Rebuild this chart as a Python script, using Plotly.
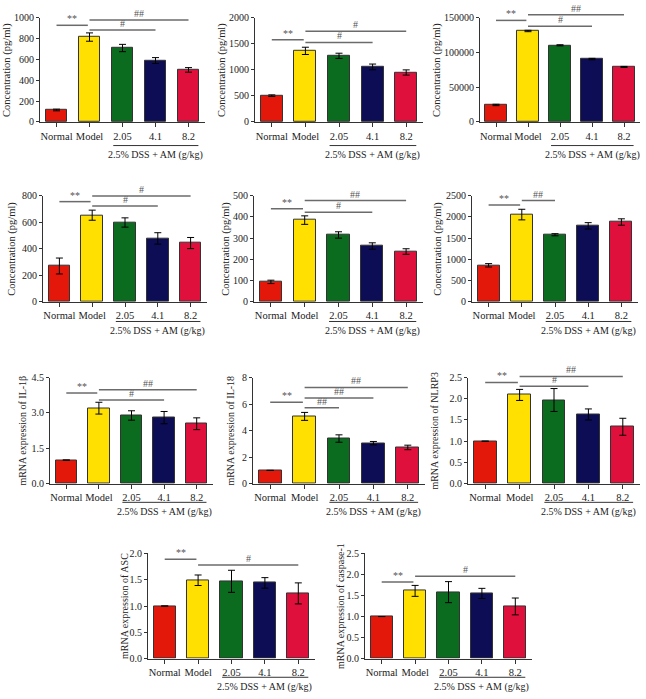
import plotly.graph_objects as go

W, H = 646, 699

categories = ["Normal", "Model", "2.05", "4.1", "8.2"]
bar_colors = ["#E3170A", "#FFE000", "#0B6B1F", "#0D0D55", "#E0103C"]
group_label = "2.5% DSS + AM (g/kg)"

# ---- values (mean, error) ----
conc_a = [115, 815, 710, 590, 500]
conc_a_err = [8, 40, 35, 28, 22]
conc_b = [505, 1365, 1270, 1057, 950]
conc_b_err = [15, 70, 50, 55, 50]
conc_c = [24500, 131000, 110400, 90600, 79200]
conc_c_err = [1000, 1000, 800, 1000, 800]
conc_d = [270, 653, 598, 478, 443]
conc_d_err = [60, 38, 35, 43, 42]
conc_e = [94, 385, 315, 263, 237]
conc_e_err = [8, 20, 15, 15, 13]
conc_f = [860, 2055, 1580, 1790, 1880]
conc_f_err = [40, 125, 25, 75, 75]
il1b = [1.0, 3.20, 2.89, 2.80, 2.54]
il1b_err = [0, 0.25, 0.2, 0.26, 0.25]
il18 = [1.0, 5.07, 3.40, 3.05, 2.73]
il18_err = [0, 0.3, 0.28, 0.13, 0.17]
nlrp3 = [1.0, 2.09, 1.97, 1.63, 1.34]
nlrp3_err = [0, 0.13, 0.27, 0.13, 0.2]
asc = [1.0, 1.49, 1.47, 1.44, 1.24]
asc_err = [0, 0.1, 0.21, 0.1, 0.2]
casp1 = [1.0, 1.61, 1.58, 1.55, 1.24]
casp1_err = [0, 0.13, 0.25, 0.12, 0.2]

# y axis maxima and steps
y_max = [1000, 2000, 150000, 800, 500, 2500, 4.5, 8, 2.5, 2.0, 2.5]
y_step = [200, 500, 50000, 200, 100, 500, 1.5, 2, 0.5, 0.5, 0.5]
y_fmt = ["d", "d", "d", "d", "d", "d", ".1f", "d", ".1f", ".1f", ".1f"]
y_titles = ["Concentration (pg/ml)"] * 6 + [
    "mRNA expression of IL-1\u03b2", "mRNA expression of IL-18",
    "mRNA expression of NLRP3", "mRNA expression of ASC",
    "mRNA expression of caspase-1"]

# significance marks: (from group, to group, label, height as fraction of y axis)
sig_a = [(0, 0.95, "**", 0.928), (1, 4, "##", 0.98), (1, 3, "#", 0.884)]
sig_b = [(0, 0.95, "**", 0.79), (1, 4, "#", 0.87), (1, 3, "#", 0.764)]
sig_c = [(0, 0.95, "**", 0.975), (1, 4, "##", 1.03), (1, 3, "#", 0.92)]
sig_d = [(0, 0.95, "**", 0.944), (1, 4, "#", 0.997), (1, 3, "#", 0.903)]
sig_e = [(0, 0.95, "**", 0.876), (1, 4, "##", 0.954), (1, 3, "#", 0.845)]
sig_f = [(0, 0.95, "**", 0.913), (1, 2, "##", 0.954)]
sig_il1b = [(0, 0.95, "**", 0.854), (1, 4, "##", 0.885), (1, 3, "#", 0.789)]
sig_il18 = [(0, 0.95, "**", 0.767), (1, 4, "##", 0.907), (1, 3, "##", 0.807), (1, 2, "##", 0.714)]
sig_nlrp3 = [(0, 0.95, "**", 0.954), (1, 4, "##", 1.01), (1, 3, "#", 0.917)]
sig_asc = [(0, 0.95, "**", 0.944), (1, 4, "#", 0.889)]
sig_casp1 = [(0, 0.95, "**", 0.728), (1, 4, "#", 0.783)]

values = [conc_a, conc_b, conc_c, conc_d, conc_e, conc_f, il1b, il18, nlrp3, asc, casp1]
errors = [conc_a_err, conc_b_err, conc_c_err, conc_d_err, conc_e_err, conc_f_err,
          il1b_err, il18_err, nlrp3_err, asc_err, casp1_err]
sigs = [sig_a, sig_b, sig_c, sig_d, sig_e, sig_f, sig_il1b, sig_il18, sig_nlrp3, sig_asc, sig_casp1]

# ---- layout in pixels: (x0, x1, ytop, ybottom, ytitle_x, bracket_y, bracket_text_y) ----
boxes = [
    (40, 205, 12, 118, 7, 142, 152),
    (255, 423, 12, 118, 222, 142, 152),
    (480, 640, 12, 118, 437, 142, 152),
    (43, 207, 193, 301, 12, 321, 331),
    (254, 423, 193, 301, 226, 321, 331),
    (472, 638, 193, 301, 438, 321, 331),
    (50, 213, 378, 486, 23, 505, 515),
    (253, 425, 378, 486, 231, 505, 515),
    (468, 640, 378, 486, 435, 505, 515),
    (148, 315, 557, 664, 124, 683, 693),
    (365, 532, 557, 664, 340, 683, 693),
]

FONT = "Liberation Serif"
AX = "#333333"
SIG = "#6b6b6b"

fig = go.Figure()
layout = dict(width=W, height=H, margin=dict(l=0, r=0, t=0, b=0), autosize=False,
              paper_bgcolor="white", plot_bgcolor="white", showlegend=False,
              font=dict(family=FONT, size=10, color="#222"))
shapes, annos = [], []

for i, (vals, errs, sig, box) in enumerate(zip(values, errors, sigs, boxes)):
    n = i + 1
    xa = "x" if n == 1 else f"x{n}"
    ya = "y" if n == 1 else f"y{n}"
    x0, x1, yt, yb, tx, by, bty = box
    fig.add_trace(go.Bar(
        x=categories, y=vals, xaxis=xa, yaxis=ya, width=0.66,
        marker=dict(color=bar_colors, line=dict(color=AX, width=1)),
        error_y=dict(type="data", array=errs, color="black", thickness=1, width=3.5),
    ))
    layout["xaxis" if n == 1 else f"xaxis{n}"] = dict(
        domain=[x0 / W, x1 / W], anchor=ya, type="category", range=[-0.5, 4.5],
        showline=True, linecolor=AX, linewidth=1, ticks="outside", ticklen=4,
        tickcolor=AX, showgrid=False, tickfont=dict(family=FONT, size=10.5, color="#222"),
        fixedrange=True)
    layout["yaxis" if n == 1 else f"yaxis{n}"] = dict(
        domain=[1 - yb / H, 1 - yt / H], anchor=xa, range=[0, y_max[i]], dtick=y_step[i],
        tick0=0, tickformat=y_fmt[i], showline=True, linecolor=AX, linewidth=1,
        ticks="outside", ticklen=3, tickcolor=AX, showgrid=False, zeroline=False,
        tickfont=dict(family=FONT, size=10, color="#222"), fixedrange=True)
    # y title
    annos.append(dict(text=y_titles[i], textangle=-90, xref="paper", yref="paper",
                      x=tx / W, y=1 - (yt + yb) / 2 / H, showarrow=False,
                      font=dict(family=FONT, size=10.5 if i < 6 else 10, color="#222"),
                      xanchor="center", yanchor="middle"))
    # group bracket below axis
    shapes.append(dict(type="line", xref=xa, yref="paper", x0=1.72, x1=4.3,
                       y0=1 - by / H, y1=1 - by / H, line=dict(color="#333", width=1)))
    annos.append(dict(text=group_label, xref=xa, yref="paper", x=3.0, y=1 - bty / H,
                      showarrow=False, xanchor="center", yanchor="middle",
                      font=dict(family=FONT, size=10, color="#222")))
    # significance lines
    for (a, b, lab, f) in sig:
        shapes.append(dict(type="line", xref=xa, yref=f"{ya} domain", x0=a, x1=b,
                           y0=f, y1=f, line=dict(color=SIG, width=1.5)))
        annos.append(dict(text=lab, xref=xa, yref=f"{ya} domain", x=(a + b) / 2, y=f,
                          showarrow=False, xanchor="center", yanchor="bottom", yshift=-1,
                          font=dict(family=FONT, size=10, color="#555")))

layout["shapes"] = shapes
layout["annotations"] = annos
layout["bargap"] = 0
fig.update_layout(**layout)
fig.write_html("out.html", config={"displayModeBar": False},
               post_script="document.body.style.margin='0';document.body.style.overflow='hidden';")
